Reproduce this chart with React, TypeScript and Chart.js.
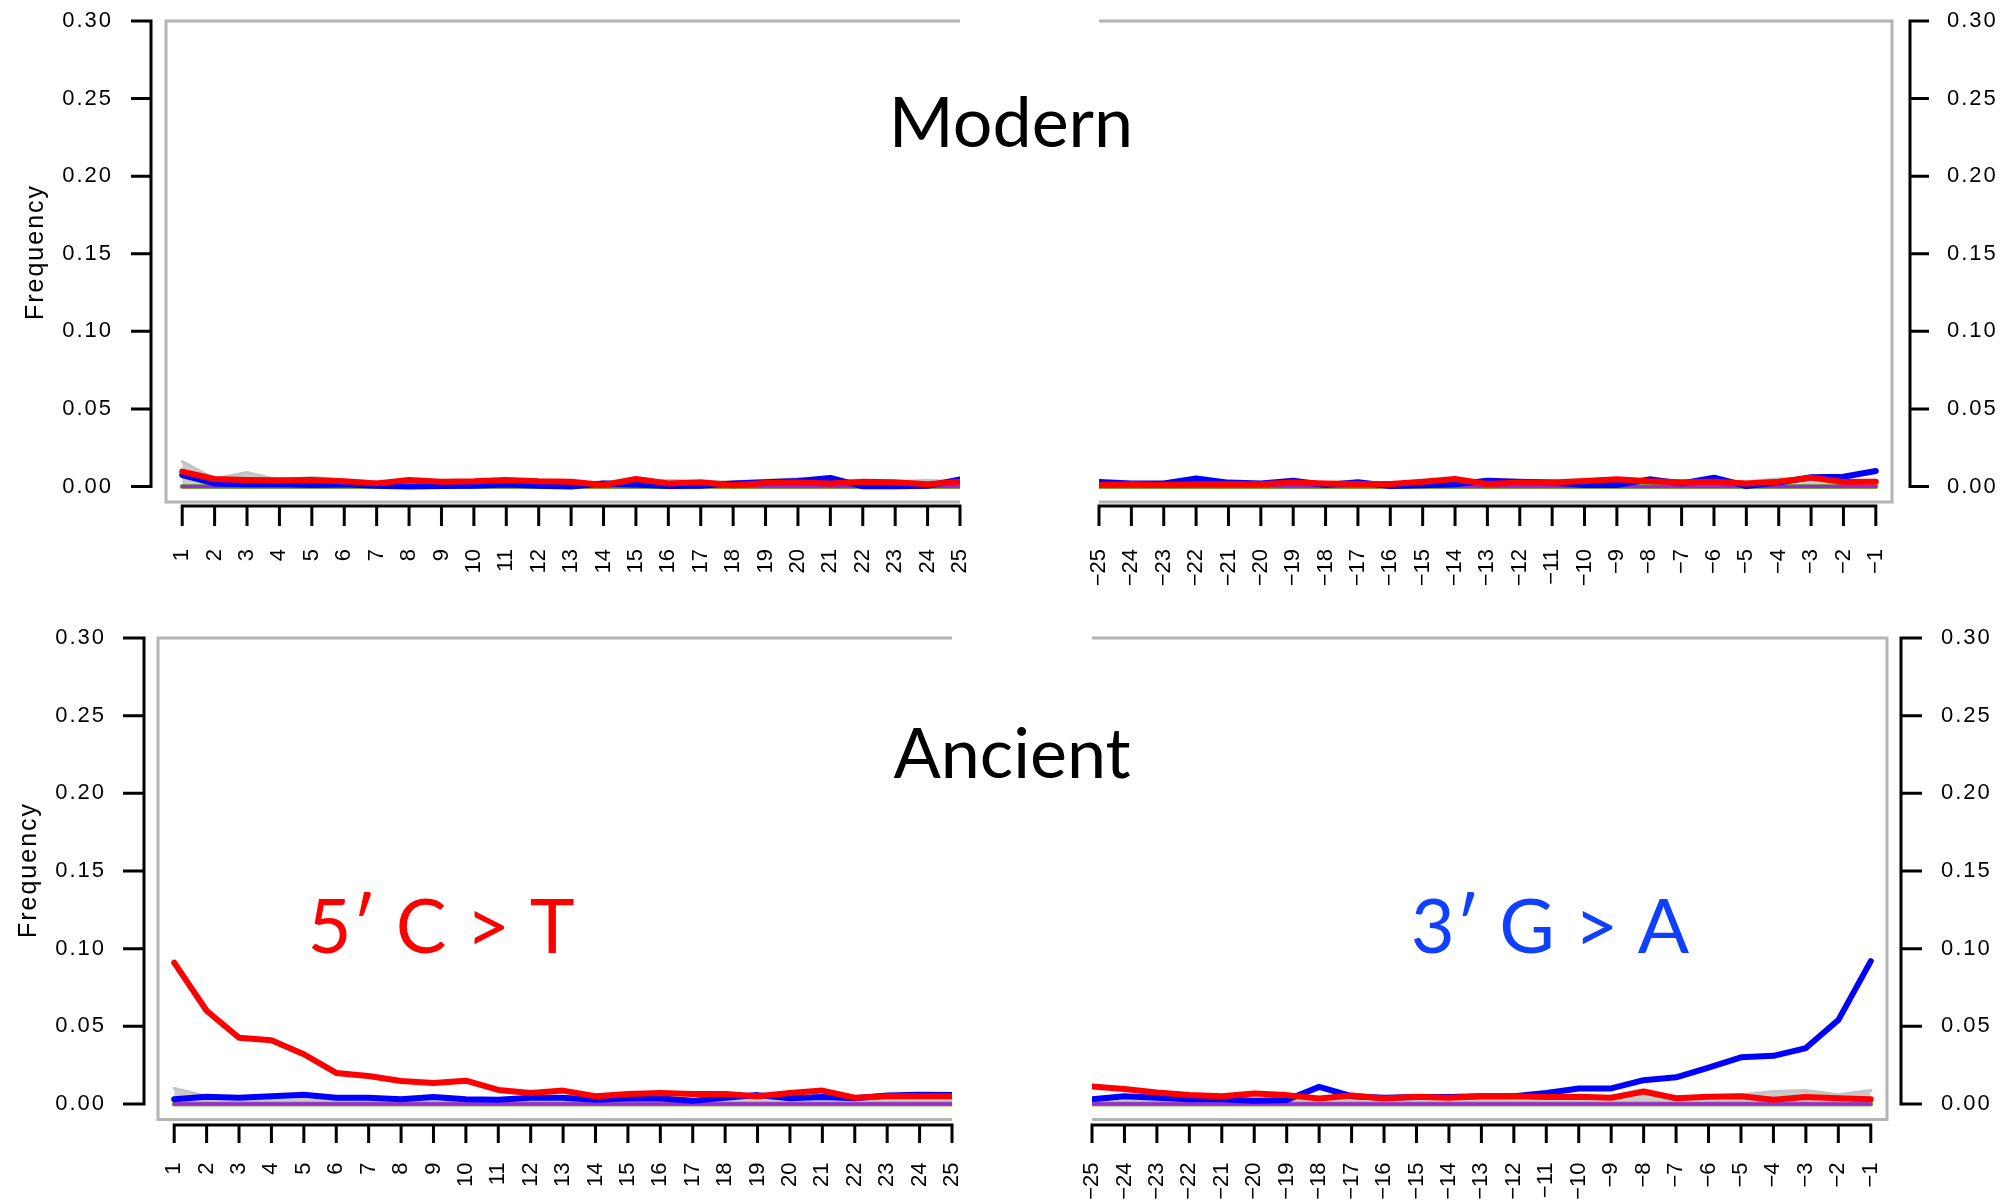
import React, { useEffect, useRef } from 'react';
import { Chart, registerables } from 'chart.js';

Chart.register(...registerables);

// ---------- categories / tick labels ----------
const fivePrimePositions = [1, 2, 3, 4, 5, 6, 7, 8, 9, 10, 11, 12, 13, 14, 15, 16, 17, 18, 19, 20, 21, 22, 23, 24, 25];
const fivePrimeLabels = ['1', '2', '3', '4', '5', '6', '7', '8', '9', '10', '11', '12', '13', '14', '15', '16', '17', '18', '19', '20', '21', '22', '23', '24', '25'];
const threePrimePositions = [-25, -24, -23, -22, -21, -20, -19, -18, -17, -16, -15, -14, -13, -12, -11, -10, -9, -8, -7, -6, -5, -4, -3, -2, -1];
const threePrimeLabels = ['\u221225', '\u221224', '\u221223', '\u221222', '\u221221', '\u221220', '\u221219', '\u221218', '\u221217', '\u221216', '\u221215', '\u221214', '\u221213', '\u221212', '\u221211', '\u221210', '\u22129', '\u22128', '\u22127', '\u22126', '\u22125', '\u22124', '\u22123', '\u22122', '\u22121'];
const yTickValues = [0, 0.05, 0.1, 0.15, 0.2, 0.25, 0.3];
const yTickLabels = ['0.00', '0.05', '0.10', '0.15', '0.20', '0.25', '0.30'];
const yAxisTitle = 'Frequency';

// ---------- series values ----------
// Modern, 5' end
const modern5CT = [0.0096, 0.0048, 0.0042, 0.004, 0.0042, 0.0033, 0.002, 0.0042, 0.003, 0.0033, 0.0042, 0.0033, 0.003, 0.001, 0.0048, 0.002, 0.0027, 0.0008, 0.0023, 0.0025, 0.002, 0.003, 0.0027, 0.0014, 0.003];
const modern5GA = [0.0074, 0.002, 0.0014, 0.0016, 0.001, 0.0014, 0.0005, 0.0, 0.0003, 0.0005, 0.0012, 0.0005, 0.0, 0.002, 0.0012, 0.0003, 0.0005, 0.002, 0.0027, 0.0035, 0.0055, 0.0001, 0.0001, 0.0005, 0.0046];
const modern5Other = [0.016, 0.005, 0.009, 0.004, 0.006, 0.004, 0.003, 0.002, 0.003, 0.003, 0.003, 0.003, 0.002, 0.003, 0.003, 0.004, 0.003, 0.003, 0.004, 0.005, 0.004, 0.003, 0.003, 0.004, 0.003];
// Modern, 3' end
const modern3CT = [0.001, 0.0014, 0.001, 0.0014, 0.0014, 0.0014, 0.0025, 0.002, 0.0016, 0.0016, 0.003, 0.0048, 0.0016, 0.0025, 0.0025, 0.0035, 0.0046, 0.0033, 0.0027, 0.003, 0.002, 0.003, 0.0057, 0.0029, 0.003];
const modern3GA = [0.0029, 0.002, 0.002, 0.0052, 0.0025, 0.002, 0.0037, 0.001, 0.0027, 0.0003, 0.0008, 0.0014, 0.0037, 0.003, 0.0025, 0.001, 0.001, 0.0046, 0.002, 0.0057, 0.0003, 0.0025, 0.006, 0.0063, 0.01];
const modern3Other = [0.002, 0.002, 0.002, 0.003, 0.002, 0.002, 0.003, 0.002, 0.002, 0.002, 0.002, 0.003, 0.003, 0.003, 0.003, 0.003, 0.003, 0.004, 0.003, 0.004, 0.003, 0.005, 0.005, 0.004, 0.004];
// Ancient, 5' end
const ancient5CT = [0.091, 0.06, 0.0426, 0.041, 0.032, 0.02, 0.018, 0.0148, 0.0135, 0.015, 0.009, 0.007, 0.0086, 0.005, 0.0064, 0.007, 0.0064, 0.0064, 0.005, 0.007, 0.0086, 0.004, 0.005, 0.005, 0.005];
const ancient5GA = [0.003, 0.0047, 0.004, 0.005, 0.006, 0.004, 0.004, 0.003, 0.0045, 0.003, 0.0027, 0.004, 0.004, 0.0027, 0.0035, 0.0035, 0.002, 0.004, 0.0057, 0.0037, 0.0045, 0.0037, 0.0055, 0.006, 0.0057];
const ancient5Other = [0.01, 0.005, 0.004, 0.004, 0.005, 0.004, 0.004, 0.003, 0.004, 0.003, 0.003, 0.004, 0.004, 0.003, 0.004, 0.003, 0.003, 0.004, 0.004, 0.004, 0.004, 0.003, 0.004, 0.004, 0.004];
// Ancient, 3' end
const ancient3CT = [0.0113, 0.0096, 0.0074, 0.0057, 0.005, 0.0067, 0.0057, 0.0035, 0.0054, 0.0035, 0.0047, 0.004, 0.005, 0.005, 0.0045, 0.0047, 0.004, 0.008, 0.0037, 0.0047, 0.005, 0.0027, 0.0045, 0.0037, 0.003];
const ancient3GA = [0.003, 0.005, 0.004, 0.003, 0.003, 0.002, 0.0025, 0.011, 0.005, 0.004, 0.0045, 0.0045, 0.005, 0.005, 0.007, 0.0099, 0.01, 0.0153, 0.0172, 0.0234, 0.03, 0.031, 0.036, 0.054, 0.092];
const ancient3Other = [0.003, 0.004, 0.003, 0.003, 0.003, 0.003, 0.003, 0.004, 0.003, 0.003, 0.003, 0.003, 0.004, 0.004, 0.004, 0.004, 0.005, 0.006, 0.004, 0.005, 0.006, 0.008, 0.0086, 0.006, 0.0086];
// remaining substitution types lie on zero
const baselineZero = [0, 0, 0, 0, 0, 0, 0, 0, 0, 0, 0, 0, 0, 0, 0, 0, 0, 0, 0, 0, 0, 0, 0, 0, 0];

// ---------- layout ----------
const PAGE_W = 2006;
const CANVAS_H = 601;
const TICK_FONT = 'Liberation Sans';
const TITLE_FONT = 'Lato';

type TextItem = { text: string; x: number; y: number; font: string; color: string };
type Panel = {
  key: string;
  pageTop: number;
  side: 'left' | 'right';
  positions: number[];
  labels: string[];
  ct: number[];
  ga: number[];
  other: number[];
  xMin: number;
  xMax: number;
  area: { left: number; right: number; top: number; bottom: number };
  yAxisX: number;
  yTickEnd: number;
  yLabelPad: number;
  xAxisY: number;
  xTickEnd: number;
  xLabelPad: number;
  yTitlePos?: { x: number; y: number };
  texts: TextItem[];
};

const panels: Panel[] = [
  {
    key: 'modern5', pageTop: 0, side: 'left',
    positions: fivePrimePositions, labels: fivePrimeLabels,
    ct: modern5CT, ga: modern5GA, other: modern5Other,
    xMin: 0.5, xMax: 25,
    area: { left: 166, right: 960, top: 21, bottom: 502 },
    yAxisX: 151, yTickEnd: 131, yLabelPad: 53,
    xAxisY: 506, xTickEnd: 526, xLabelPad: 47,
    yTitlePos: { x: 36, y: 252 },
    texts: [{ text: 'Modern', x: 1011, y: 147, font: `400 70px ${TITLE_FONT}`, color: '#000000' }],
  },
  {
    key: 'modern3', pageTop: 0, side: 'right',
    positions: threePrimePositions, labels: threePrimeLabels,
    ct: modern3CT, ga: modern3GA, other: modern3Other,
    xMin: -25, xMax: -0.5,
    area: { left: 1099, right: 1892, top: 21, bottom: 502 },
    yAxisX: 1910, yTickEnd: 1929, yLabelPad: 55,
    xAxisY: 506, xTickEnd: 526, xLabelPad: 47,
    texts: [],
  },
  {
    key: 'ancient5', pageTop: 601, side: 'left',
    positions: fivePrimePositions, labels: fivePrimeLabels,
    ct: ancient5CT, ga: ancient5GA, other: ancient5Other,
    xMin: 0.5, xMax: 25,
    area: { left: 158, right: 952, top: 37, bottom: 518.5 },
    yAxisX: 144, yTickEnd: 123, yLabelPad: 52,
    xAxisY: 524, xTickEnd: 542, xLabelPad: 43,
    yTitlePos: { x: 29, y: 269 },
    texts: [
      { text: 'Ancient', x: 1012, y: 177, font: `400 70px ${TITLE_FONT}`, color: '#000000' },
      { text: '5\u2032 C > T', x: 441, y: 352, font: `400 76px ${TITLE_FONT}`, color: '#ff0000' },
    ],
  },
  {
    key: 'ancient3', pageTop: 601, side: 'right',
    positions: threePrimePositions, labels: threePrimeLabels,
    ct: ancient3CT, ga: ancient3GA, other: ancient3Other,
    xMin: -25, xMax: -0.5,
    area: { left: 1092, right: 1887, top: 37, bottom: 518.5 },
    yAxisX: 1901, yTickEnd: 1922, yLabelPad: 54,
    xAxisY: 524, xTickEnd: 542, xLabelPad: 43,
    texts: [{ text: '3\u2032 G > A', x: 1550, y: 352, font: `400 76px ${TITLE_FONT}`, color: '#1040ff' }],
  },
];

function makeDecor(p: Panel) {
  return {
    id: 'panelDecor_' + p.key,
    beforeDraw(chart: any) {
      chart.ctx.letterSpacing = '2px';
    },
    beforeDatasetsDraw(chart: any) {
      const ctx = chart.ctx;
      ctx.letterSpacing = '0px';
      const { left, right, top, bottom } = chart.chartArea;
      ctx.save();
      ctx.strokeStyle = '#b4b4b4';
      ctx.lineWidth = 3;
      ctx.lineJoin = 'miter';
      ctx.beginPath();
      if (p.side === 'left') {
        ctx.moveTo(right, top);
        ctx.lineTo(left, top);
        ctx.lineTo(left, bottom);
        ctx.lineTo(right, bottom);
      } else {
        ctx.moveTo(left, top);
        ctx.lineTo(right, top);
        ctx.lineTo(right, bottom);
        ctx.lineTo(left, bottom);
      }
      ctx.stroke();
      ctx.restore();
    },
    afterDraw(chart: any) {
      const ctx = chart.ctx;
      const xs = chart.scales.x;
      const ys = chart.scales.y;
      ctx.save();
      ctx.letterSpacing = '0px';
      ctx.strokeStyle = '#000000';
      ctx.lineWidth = 3;
      ctx.lineCap = 'butt';
      ctx.beginPath();
      const yLo = ys.getPixelForValue(yTickValues[0]);
      const yHi = ys.getPixelForValue(yTickValues[yTickValues.length - 1]);
      ctx.moveTo(p.yAxisX, yLo + 1.5);
      ctx.lineTo(p.yAxisX, yHi - 1.5);
      yTickValues.forEach((v) => {
        const py = ys.getPixelForValue(v);
        ctx.moveTo(p.yAxisX, py);
        ctx.lineTo(p.yTickEnd, py);
      });
      const xLo = xs.getPixelForValue(p.positions[0]);
      const xHi = xs.getPixelForValue(p.positions[p.positions.length - 1]);
      ctx.moveTo(xLo - 1.5, p.xAxisY);
      ctx.lineTo(xHi + 1.5, p.xAxisY);
      p.positions.forEach((v) => {
        const px = xs.getPixelForValue(v);
        ctx.moveTo(px, p.xAxisY);
        ctx.lineTo(px, p.xTickEnd);
      });
      ctx.stroke();
      if (p.yTitlePos) {
        ctx.save();
        ctx.letterSpacing = '2px';
        ctx.font = `25px ${TICK_FONT}`;
        ctx.fillStyle = '#000000';
        ctx.textAlign = 'center';
        ctx.textBaseline = 'middle';
        ctx.translate(p.yTitlePos.x, p.yTitlePos.y);
        ctx.rotate(-Math.PI / 2);
        ctx.fillText(yAxisTitle, 0, 0);
        ctx.restore();
      }
      p.texts.forEach((t) => {
        ctx.font = t.font;
        ctx.fillStyle = t.color;
        ctx.textAlign = 'center';
        ctx.textBaseline = 'alphabetic';
        ctx.fillText(t.text, t.x, t.y);
      });
      ctx.restore();
    },
  };
}

function buildConfig(p: Panel): any {
  const pts = (vals: number[]) => p.positions.map((x, i) => ({ x, y: vals[i] }));
  const line = (label: string, vals: number[], color: string, width: number, extra: any = {}) => ({
    label,
    data: pts(vals),
    borderColor: color,
    backgroundColor: color,
    borderWidth: width,
    pointRadius: 0,
    pointHoverRadius: 0,
    tension: 0,
    fill: false,
    borderCapStyle: 'round',
    borderJoinStyle: 'round',
    ...extra,
  });
  const isLeft = p.side === 'left';
  const hiddenTicks = (len: number) => ({
    display: true,
    drawOnChartArea: false,
    drawTicks: true,
    tickLength: len,
    tickColor: 'rgba(0,0,0,0)',
    color: 'rgba(0,0,0,0)',
  });
  return {
    type: 'line',
    data: {
      datasets: [
        line('C>T', p.ct, '#ff0000', 6),
        line('G>A', p.ga, '#0000ff', 6),
        line('other (purple)', baselineZero, '#a020f0', 3.5),
        line('other (green)', baselineZero, '#66cc00', 5),
        line('other substitutions', p.other, '#c4c4c4', 3, { fill: 'origin', backgroundColor: '#cbcbcb' }),
      ],
    },
    options: {
      animation: false,
      responsive: false,
      maintainAspectRatio: false,
      events: [],
      layout: {
        padding: {
          left: isLeft ? 0 : p.area.left,
          right: isLeft ? PAGE_W - p.area.right : 0,
          top: p.area.top,
          bottom: 0,
        },
      },
      plugins: { legend: { display: false }, tooltip: { enabled: false }, title: { display: false } },
      scales: {
        x: {
          type: 'linear',
          position: 'bottom',
          min: p.xMin,
          max: p.xMax,
          afterBuildTicks: (s: any) => {
            s.ticks = p.positions.map((v) => ({ value: v }));
          },
          afterFit: (s: any) => {
            s.height = CANVAS_H - p.area.bottom;
          },
          grid: hiddenTicks(p.xLabelPad),
          border: { display: false },
          ticks: {
            autoSkip: false,
            minRotation: 90,
            maxRotation: 90,
            padding: 0,
            color: '#000000',
            font: { family: TICK_FONT, size: 22 },
            callback: (_v: any, i: number) => p.labels[i],
            z: 1,
          },
        },
        y: {
          type: 'linear',
          position: p.side,
          min: -0.01,
          max: 0.3,
          afterBuildTicks: (s: any) => {
            s.ticks = yTickValues.map((v) => ({ value: v }));
          },
          afterFit: (s: any) => {
            s.width = isLeft ? p.area.left : PAGE_W - p.area.right;
          },
          grid: hiddenTicks(p.yLabelPad),
          border: { display: false },
          ticks: {
            autoSkip: false,
            padding: 0,
            color: '#000000',
            font: { family: TICK_FONT, size: 22 },
            callback: (_v: any, i: number) => yTickLabels[i],
          },
          title: { display: false },
        },
      },
    },
    plugins: [makeDecor(p)],
  };
}

function PanelChart({ panel }: { panel: Panel }) {
  const ref = useRef<HTMLCanvasElement>(null);
  useEffect(() => {
    if (!ref.current) return;
    const chart = new Chart(ref.current, buildConfig(panel));
    return () => chart.destroy();
  }, [panel]);
  return (
    <canvas
      ref={ref}
      width={PAGE_W}
      height={CANVAS_H}
      style={{ position: 'absolute', left: 0, top: panel.pageTop, width: PAGE_W, height: CANVAS_H }}
    />
  );
}

export default function App() {
  return (
    <div style={{ position: 'absolute', left: 0, top: 0, width: PAGE_W, height: 1202, background: '#ffffff', overflow: 'hidden' }}>
      {panels.map((p) => (
        <PanelChart key={p.key} panel={p} />
      ))}
    </div>
  );
}
